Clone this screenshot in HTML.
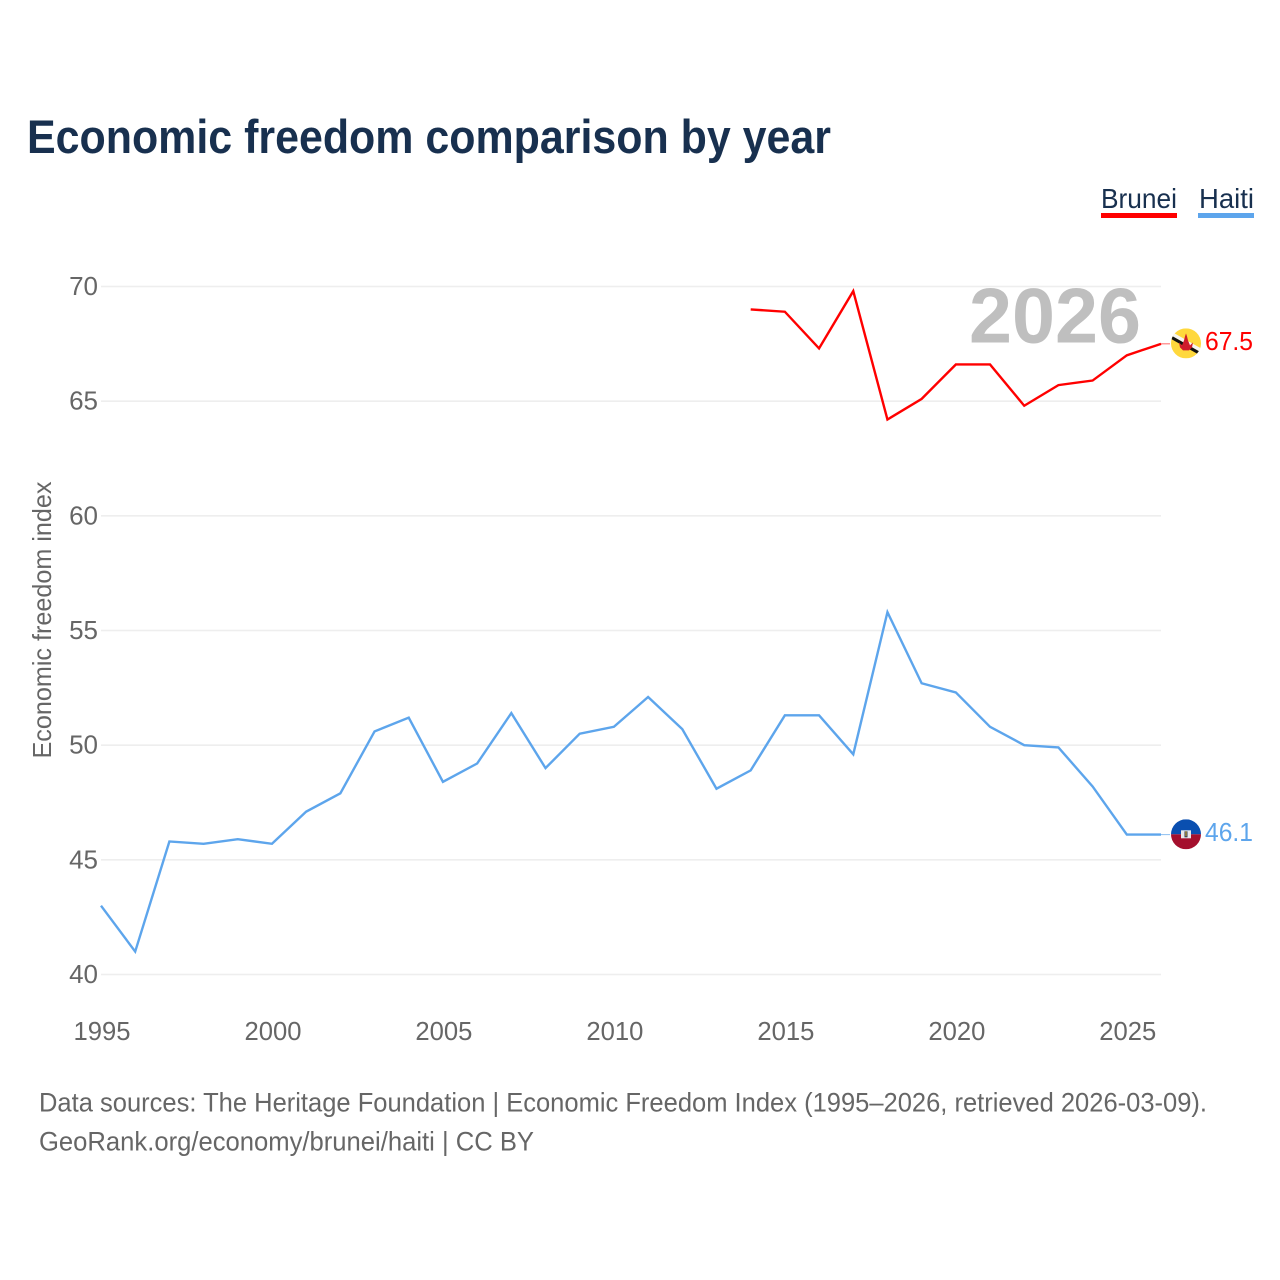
<!DOCTYPE html>
<html lang="en">
<head>
<meta charset="utf-8">
<title>Economic freedom comparison by year</title>
<style>
html,body{margin:0;padding:0;background:#fff;}
svg{display:block;font-family:"Liberation Sans",sans-serif;}
</style>
</head>
<body>
<svg id="chart" xmlns="http://www.w3.org/2000/svg" width="1280" height="1280" viewBox="0 0 1280 1280">
  <rect x="0" y="0" width="1280" height="1280" fill="#fff"/>
  <text x="27" y="153" font-size="47" font-weight="700" fill="#18304f" textLength="804" lengthAdjust="spacingAndGlyphs">Economic freedom comparison by year</text>

  <g>
    <text x="1101" y="208" font-size="28" fill="#18304f" textLength="76" lengthAdjust="spacingAndGlyphs">Brunei</text>
    <rect x="1101" y="213" width="76" height="5" fill="#ff0000"/>
  </g>
  <g>
    <text x="1199" y="208" font-size="28" fill="#18304f" textLength="55" lengthAdjust="spacingAndGlyphs">Haiti</text>
    <rect x="1198" y="213" width="56" height="5" fill="#5da5ec"/>
  </g>

  <g id="grid"></g>
  <g id="yticks"></g>
  <g id="xticks"></g>

  <text x="969" y="342.5" font-size="78" font-weight="700" fill="#bfbfbf" textLength="172" lengthAdjust="spacingAndGlyphs">2026</text>

  <text transform="translate(51,620) rotate(-90)" text-anchor="middle" font-size="26" fill="#666" textLength="277" lengthAdjust="spacingAndGlyphs">Economic freedom index</text>

  <g id="series"></g>

  <g id="flag-brunei">
    <clipPath id="clip-b"><circle cx="0" cy="0" r="15"/></clipPath>
    <g clip-path="url(#clip-b)">
      <rect x="-15" y="-15" width="30" height="30" fill="#ffd83d"/>
      <polygon points="-15,-12 -15,-8 15,9 15,5" fill="#f5f5f5"/>
      <polygon points="-15,-8 -15,-4.5 15,12.5 15,9" fill="#111"/>
      <path d="M-7,-1 L-4,2 L-2,-3 L-1,-7 L0,-10 L1,-7 L2,-3 L4,2 L7,-1 L6,4 L3,7 L-3,7 L-6,4 Z" fill="#cf1b2b"/>
    </g>
  </g>
  <g id="flag-haiti">
    <clipPath id="clip-h"><circle cx="0" cy="0" r="15"/></clipPath>
    <g clip-path="url(#clip-h)">
      <rect x="-15" y="-15" width="30" height="15" fill="#0a4fb0"/>
      <rect x="-15" y="0" width="30" height="15" fill="#a40f2d"/>
      <rect x="-5" y="-4" width="10" height="8" fill="#e9e9e9"/>
      <rect x="-1.5" y="-3" width="3" height="6" fill="#2a3a5a"/>
      <rect x="-.5" y="-3" width="1" height="5" fill="#e8b82a"/>
    </g>
  </g>

  <text id="value-brunei" x="1205" font-size="26" fill="#ff0000" textLength="48" lengthAdjust="spacingAndGlyphs"></text>
  <text id="value-haiti" x="1205" font-size="26" fill="#5da5ec" textLength="48" lengthAdjust="spacingAndGlyphs"></text>

  <text x="39" y="1111.5" font-size="26.5" fill="#666" textLength="1168" lengthAdjust="spacingAndGlyphs">Data sources: The Heritage Foundation | Economic Freedom Index (1995–2026, retrieved 2026-03-09).</text>
  <text x="39" y="1150.5" font-size="26.5" fill="#666" textLength="495" lengthAdjust="spacingAndGlyphs">GeoRank.org/economy/brunei/haiti | CC BY</text>
</svg>
<script>
const yTickValues = [40, 45, 50, 55, 60, 65, 70];
const xTickValues = [1995, 2000, 2005, 2010, 2015, 2020, 2025];
const haitiYears = [1995,1996,1997,1998,1999,2000,2001,2002,2003,2004,2005,2006,2007,2008,2009,2010,2011,2012,2013,2014,2015,2016,2017,2018,2019,2020,2021,2022,2023,2024,2025,2026];
const haitiValues = [43.0,41.0,45.8,45.7,45.9,45.7,47.1,47.9,50.6,51.2,48.4,49.2,51.4,49.0,50.5,50.8,52.1,50.7,48.1,48.9,51.3,51.3,49.6,55.8,52.7,52.3,50.8,50.0,49.9,48.2,46.1,46.1];
const bruneiYears = [2014,2015,2016,2017,2018,2019,2020,2021,2022,2023,2024,2025,2026];
const bruneiValues = [69.0,68.9,67.3,69.8,64.2,65.1,66.6,66.6,64.8,65.7,65.9,67.0,67.5];

const NS = 'http://www.w3.org/2000/svg';
const plotLeft = 101, plotRight = 1161, plotTop = 286.5, plotBottom = 974.5;
const xMin = 1995, xMax = 2026, yMin = 40, yMax = 70;
function xScale(v) { return plotLeft + (v - xMin) / (xMax - xMin) * (plotRight - plotLeft); }
function yScale(v) { return plotBottom - (v - yMin) / (yMax - yMin) * (plotBottom - plotTop); }

const grid = document.getElementById('grid');
const yticks = document.getElementById('yticks');
const xticks = document.getElementById('xticks');
const series = document.getElementById('series');

yTickValues.forEach(function (t) {
  const line = document.createElementNS(NS, 'line');
  
  
  line.setAttribute('x1', plotLeft);
  line.setAttribute('x2', plotRight);
  line.setAttribute('y1', yScale(t));
  line.setAttribute('y2', yScale(t));
  line.setAttribute('stroke', '#eeeeee');
  line.setAttribute('stroke-width', '1.6');
  grid.appendChild(line);

  const label = document.createElementNS(NS, 'text');
  
  
  label.setAttribute('x', 98);
  label.setAttribute('y', yScale(t) + 8.5);
  label.setAttribute('text-anchor', 'end');
  label.setAttribute('font-size', '26');
  label.setAttribute('fill', '#666');
  label.textContent = t;
  yticks.appendChild(label);
});

xTickValues.forEach(function (t) {
  const label = document.createElementNS(NS, 'text');
  
  
  label.setAttribute('x', xScale(t) + 1);
  label.setAttribute('y', 1040);
  label.setAttribute('text-anchor', 'middle');
  label.setAttribute('font-size', '26');
  label.setAttribute('fill', '#666');
  label.setAttribute('textLength', '57');
  label.setAttribute('lengthAdjust', 'spacingAndGlyphs');
  label.textContent = t;
  xticks.appendChild(label);
});

function pathFor(years, values) {
  return years.map(function (y, i) {
    return (i ? 'L' : 'M') + xScale(y).toFixed(2) + ',' + yScale(values[i]).toFixed(2);
  }).join(' ');
}

const bruneiLine = document.createElementNS(NS, 'path');


bruneiLine.setAttribute('d', pathFor(bruneiYears, bruneiValues));
bruneiLine.setAttribute('fill', 'none');
bruneiLine.setAttribute('stroke', '#ff0000');
bruneiLine.setAttribute('stroke-width', '2.4');
series.appendChild(bruneiLine);

const haitiLine = document.createElementNS(NS, 'path');


haitiLine.setAttribute('d', pathFor(haitiYears, haitiValues));
haitiLine.setAttribute('fill', 'none');
haitiLine.setAttribute('stroke', '#5da5ec');
haitiLine.setAttribute('stroke-width', '2.4');
series.appendChild(haitiLine);

const bruneiLast = bruneiValues[bruneiValues.length - 1];
const haitiLast = haitiValues[haitiValues.length - 1];

const bruneiConnector = document.createElementNS(NS, 'line');


bruneiConnector.setAttribute('x1', plotRight);
bruneiConnector.setAttribute('x2', 1170);
bruneiConnector.setAttribute('y1', yScale(bruneiLast));
bruneiConnector.setAttribute('y2', yScale(bruneiLast));
bruneiConnector.setAttribute('stroke', '#ff0000');
bruneiConnector.setAttribute('stroke-width', '1');
bruneiConnector.setAttribute('opacity', '0.6');
series.appendChild(bruneiConnector);

const haitiConnector = document.createElementNS(NS, 'line');


haitiConnector.setAttribute('x1', plotRight);
haitiConnector.setAttribute('x2', 1170);
haitiConnector.setAttribute('y1', yScale(haitiLast));
haitiConnector.setAttribute('y2', yScale(haitiLast));
haitiConnector.setAttribute('stroke', '#5da5ec');
haitiConnector.setAttribute('stroke-width', '1');
haitiConnector.setAttribute('opacity', '0.7');
series.appendChild(haitiConnector);

document.getElementById('flag-brunei').setAttribute('transform', 'translate(1186,' + (yScale(bruneiLast) - 0.5) + ')');
document.getElementById('flag-haiti').setAttribute('transform', 'translate(1186,' + (yScale(haitiLast) - 0.3) + ')');

const bruneiValueLabel = document.getElementById('value-brunei');
bruneiValueLabel.setAttribute('y', yScale(bruneiLast) + 6.2);
bruneiValueLabel.textContent = bruneiLast.toFixed(1);
const haitiValueLabel = document.getElementById('value-haiti');
haitiValueLabel.setAttribute('y', yScale(haitiLast) + 6.2);
haitiValueLabel.textContent = haitiLast.toFixed(1);
</script>
</body>
</html>
